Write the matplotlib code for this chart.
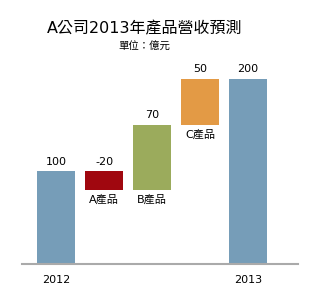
import matplotlib.pyplot as plt

plt.rcParams['font.family'] = ['DejaVu Sans', 'Noto Sans CJK TC']

# waterfall data
categories = ['2012', 'A產品', 'B產品', 'C產品', '2013']
values = [100, -20, 70, 50, 200]
is_total = [True, False, False, False, True]
colors = ['#769DB8', '#A0070F', '#9BAB5C', '#E39A45', '#769DB8']

# compute bar bottoms / heights
bottoms, heights = [], []
running = 0
for v, tot in zip(values, is_total):
    if tot:
        bottoms.append(0)
        heights.append(v)
        running = v
    else:
        new = running + v
        bottoms.append(min(running, new))
        heights.append(abs(v))
        running = new

fig = plt.figure(figsize=(3.2, 3.0), dpi=100)
ax = fig.add_axes([22 / 320, 36 / 300, 276 / 320, 204 / 300])

x = range(len(categories))
ax.bar(x, heights, bottom=bottoms, width=0.79, color=colors)

for i, (b, h, v, tot) in enumerate(zip(bottoms, heights, values, is_total)):
    ax.annotate(str(v), (i, b + h), xytext=(0, 3.5), textcoords='offset points',
                ha='center', va='bottom', fontsize=8)
    if not tot:
        ax.annotate(categories[i], (i, b), xytext=(0, -3), textcoords='offset points',
                    ha='center', va='top', fontsize=8)

ax.set_xlim(-0.71, 5.04)
ax.set_ylim(0, 220.5)
ax.set_xticks([0, 4])
ax.set_xticklabels([categories[0], categories[4]], fontsize=8)
ax.tick_params(axis='x', length=0, pad=8)
ax.set_yticks([])
for s in ['top', 'right', 'left']:
    ax.spines[s].set_visible(False)
ax.spines['bottom'].set_color('#AAAAAA')
ax.spines['bottom'].set_linewidth(1.5)

fig.text(145 / 320, 1 - 29 / 300, 'A公司2013年產品營收預測', ha='center', va='center', fontsize=11.5)
fig.text(144 / 320, 1 - 47 / 300, '單位：億元', ha='center', va='center', fontsize=7.5)

fig.savefig('out.png', dpi=100)
